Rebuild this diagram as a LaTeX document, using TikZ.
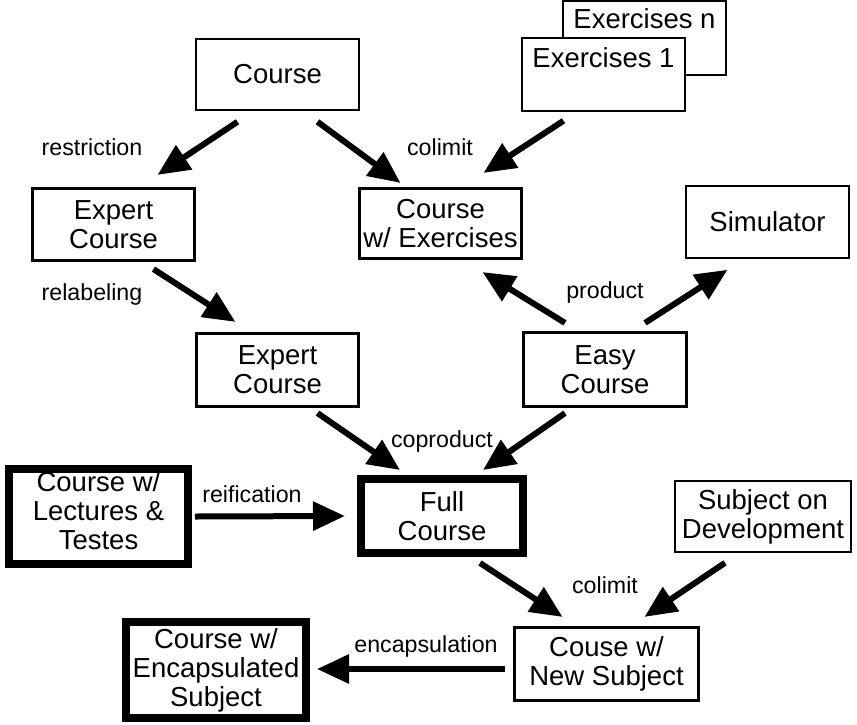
\documentclass[tikz,border=0pt]{standalone}
\usepackage{fontspec}
\setmainfont{Liberation Sans}
\usetikzlibrary{calc,arrows.meta}

\begin{document}
\begin{tikzpicture}[
  x=1pt,y=-1pt, % pixel-like units, y grows downwards
  arr/.style={-{Triangle[length=32pt,width=28pt]},line width=6pt}, % style of the thick arrows
  box/.style={draw,align=center,inner sep=0pt,font=\fontsize{27.5}{29}\selectfont}, % base style of the boxes
  thin box/.style={box,line width=1.6pt},
  mid box/.style={box,line width=3.2pt},
  thick box/.style={box,line width=8pt},
  lbl/.style={anchor=base,font=\fontsize{23.2}{26}\selectfont} % style of the arrow labels
  ]
  \useasboundingbox (0,0) rectangle (857,724);

  \node[thin box,minimum width=163pt,minimum height=71pt] (course) at (277.5,74.5) {Course};
  \node[thin box,minimum width=163pt,text height=27pt,text depth=47pt,anchor=base] (exn) at (644.5,28) {Exercises n};
  \node[thin box,fill=white,minimum width=163pt,text height=29pt,text depth=44pt,anchor=base] (exone) at (603.5,67) {Exercises 1};
  \node[mid box,minimum width=162pt,minimum height=72pt] (expA) at (113.5,224.5) {Expert\\Course};
  \node[mid box,minimum width=162pt,minimum height=70pt] (cwe) at (440.5,223.5) {Course\\w/ Exercises};
  \node[thin box,minimum width=163pt,minimum height=72pt] (sim) at (767.5,222) {Simulator};
  \node[mid box,minimum width=162pt,minimum height=73pt] (expB) at (277.5,370) {Expert\\Course};
  \node[mid box,minimum width=163pt,minimum height=74pt] (easy) at (605,369.5) {Easy\\Course};
  \node[thick box,minimum width=179pt,minimum height=95pt,text depth=12pt] (lect) at (98.5,516.5) {Course w/\\Lectures \&\\Testes};
  \node[thick box,minimum width=162pt,minimum height=74pt] (full) at (442,516) {Full\\Course};
  \node[thin box,minimum width=176pt,minimum height=71pt] (subj) at (763,516.5) {Subject on\\Development};
  \node[mid box,minimum width=184pt,minimum height=73pt] (newsub) at (606.5,664) {Couse w/\\New Subject};
  \node[thick box,minimum width=180pt,minimum height=96pt] (encap) at (216,670) {Course w/\\Encapsulated\\Subject};

  % labels of the arrows
  \node[lbl] (lrestr) at (92,155) {restriction};
  \node[lbl] (lcolimA) at (440,155) {colimit};
  \node[lbl] (lrelab) at (92,300) {relabeling};
  \node[lbl] (lprod) at (605,298) {product};
  \node[lbl] (lcoprod) at (442,447) {coproduct};
  \node[lbl] (lreif) at (252,502) {reification};
  \node[lbl] (lcolimB) at (605,593) {colimit};
  \node[lbl] (lencap) at (426,652) {encapsulation};

  % arrows
  \draw[arr] ($(course.south)+(-40,11)$) -- ($(expA.north)+(44,-12)$);
  \draw[arr] ($(course.south)+(40,11)$) -- ($(cwe.north)+(-40,-4)$);
  \draw[arr] ($(exone.south)+(-40,9)$) -- ($(cwe.north)+(43,-14)$);
  \draw[arr] ($(expA.south)+(40,7)$) -- ($(expB.north)+(-42,-10)$);
  \draw[arr] ($(easy.north)+(-40,-8)$) -- ($(cwe.south)+(42,12)$);
  \draw[arr] ($(easy.north)+(40,-8)$) -- ($(sim.south)+(-40,11)$);
  \draw[arr] ($(expB.south)+(40,5)$) -- ($(full.north)+(-42,-5)$);
  \draw[arr] ($(easy.south)+(-40,5)$) -- ($(full.north)+(41,-5)$);
  \draw[arr] ($(lect.east)+(3,0)$) -- ($(full.west)+(-12,0)$);
  \draw[arr] ($(full.south)+(38,6)$) -- ($(newsub.north)+(-44,-9)$);
  \draw[arr] ($(subj.south)+(-38,10)$) -- ($(newsub.north)+(38,-9)$);
  \draw[arr] ($(newsub.west)+(-8,5)$) -- ($(encap.east)+(7,-1)$);
\end{tikzpicture}
\end{document}
